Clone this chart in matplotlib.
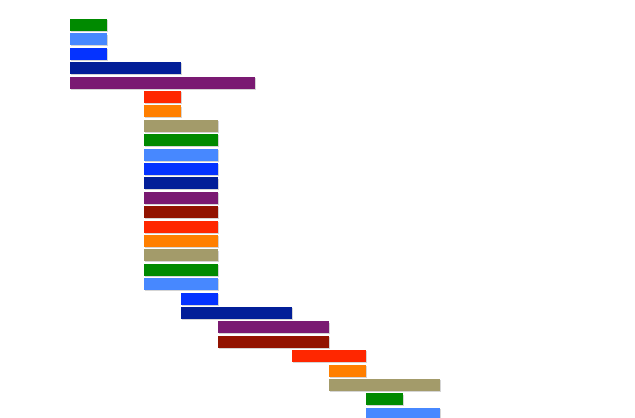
import matplotlib
matplotlib.use("Agg")
import matplotlib.pyplot as plt
import matplotlib.patheffects as pe

tasks = [f"Task {i+1}" for i in range(28)]
starts = [0, 0, 0, 0, 0, 2, 2, 2, 2, 2, 2, 2, 2, 2, 2, 2, 2, 2, 2, 3, 3, 4, 4, 6, 7, 7, 8, 8]
ends   = [1, 1, 1, 3, 5, 3, 3, 4, 4, 4, 4, 4, 4, 4, 4, 4, 4, 4, 4, 4, 6, 7, 7, 8, 8, 10, 9, 10]
GREEN, LBLUE, BLUE, NAVY, PURPLE = "#008a00", "#4788ff", "#0533ff", "#021e98", "#7a1a72"
DRED, RED, ORANGE, KHAKI = "#921300", "#ff2700", "#ff7f00", "#a39b6a"
colors = [GREEN, LBLUE, BLUE, NAVY, PURPLE, RED, ORANGE, KHAKI,
          GREEN, LBLUE, BLUE, NAVY, PURPLE, DRED, RED, ORANGE, KHAKI,
          GREEN, LBLUE, BLUE, NAVY, PURPLE, DRED, RED, ORANGE, KHAKI,
          GREEN, LBLUE]

fig = plt.figure(figsize=(6.35, 4.18), dpi=100)
ax = fig.add_axes([0, 0, 1, 1])
ys = list(range(len(tasks)))
widths = [e - s for s, e in zip(starts, ends)]
bars = ax.barh(ys, widths, left=starts, height=0.83, color=colors)
for b in bars:
    b.set_path_effects([pe.SimplePatchShadow(offset=(0.8, -0.8), shadow_rgbFace="#888888", alpha=0.35),
                        pe.Normal()])
unit = 37.0
ax.set_xlim(-70 / unit, (635 - 70) / unit)
pitch = 14.4
ax.set_ylim((418 - 25) / pitch, -25 / pitch)
ax.axis("off")
fig.savefig("out.png", dpi=100)
